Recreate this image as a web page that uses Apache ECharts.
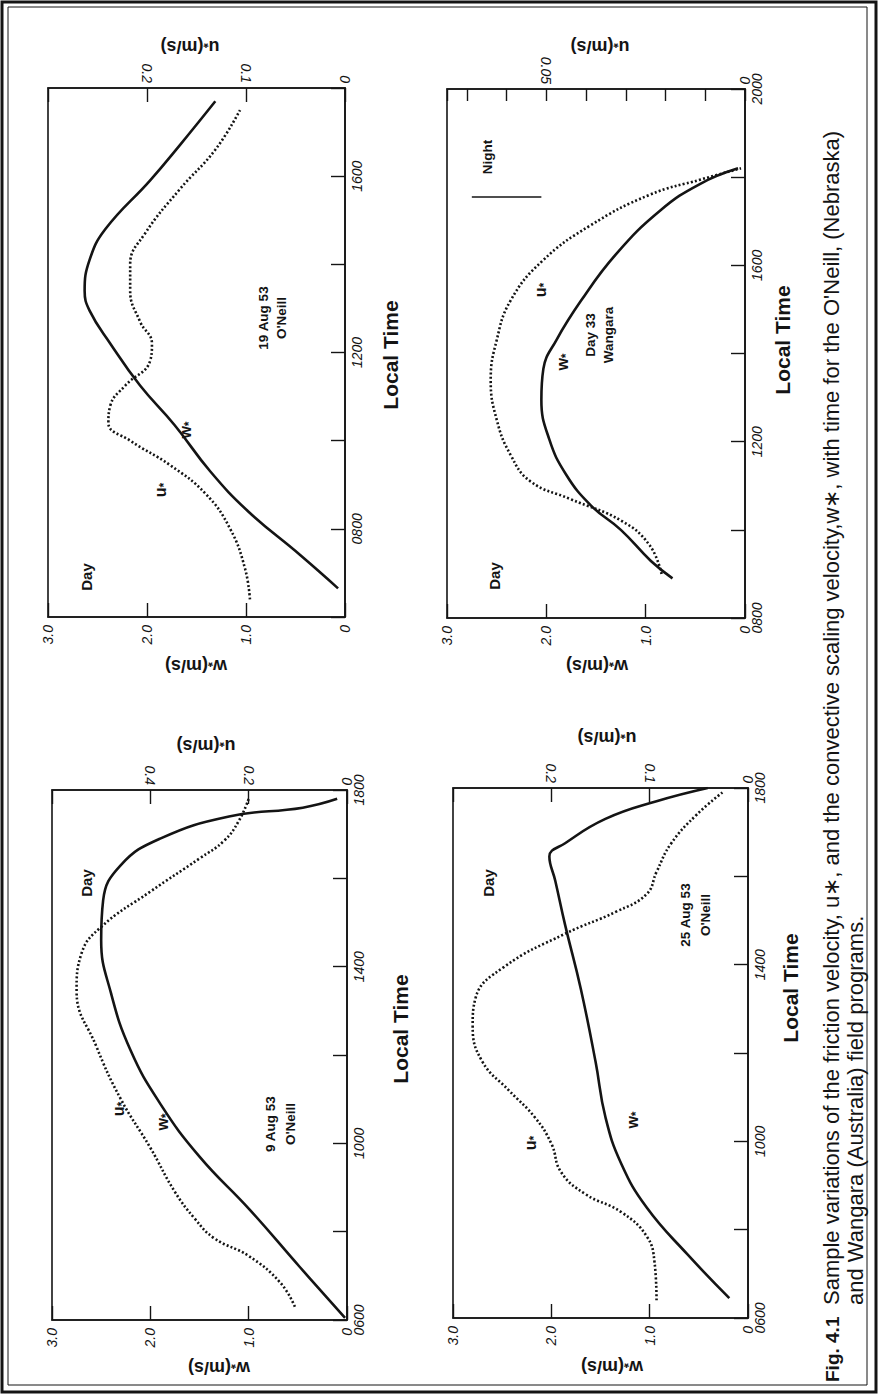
<!DOCTYPE html>
<html><head><meta charset="utf-8">
<script src="https://cdn.jsdelivr.net/npm/echarts/dist/echarts.min.js"></script>
<style>html,body{margin:0;padding:0;background:#fff}#c{width:880px;height:1397px}</style>
</head><body><div id="c"></div>
<script>
// ---------- data (time in hours, values in m/s) ----------
// 19 Aug 53, O'Neill
const w19Time = [6.65, 7.4, 8.4, 9.3, 10.35, 11.25, 12.2, 12.95, 13.4, 14.1, 14.8, 15.9, 16.7, 17.7];
const w19     = [0.07, 0.45, 0.98, 1.36, 1.72, 2.07, 2.37, 2.58, 2.63, 2.58, 2.42, 1.97, 1.67, 1.31];
const u19Time = [6.4, 7.1, 8.0, 8.8, 9.45, 10.0, 10.4, 10.8, 11.25, 11.8, 12.2, 12.7, 13.4, 14.0, 14.7, 15.7, 16.6, 17.5];
const u19     = [0.096, 0.101, 0.116, 0.141, 0.177, 0.217, 0.239, 0.237, 0.222, 0.197, 0.195, 0.207, 0.217, 0.217, 0.202, 0.167, 0.131, 0.106];
// Day 33, Wangara
const wWanTime = [8.9, 9.3, 10.0, 10.55, 11.25, 12.05, 12.95, 13.65, 14.3, 15.2, 16.25, 17.25, 17.85, 18.2];
const wWan     = [0.73, 0.95, 1.25, 1.55, 1.8, 1.97, 2.05, 2.03, 1.9, 1.65, 1.3, 0.85, 0.45, 0.07];
const uWanTime = [9.0, 9.65, 10.2, 10.7, 11.1, 11.7, 12.5, 13.4, 14.3, 15.2, 16.1, 16.9, 17.6, 17.95, 18.2];
const uWan     = [0.021, 0.024, 0.031, 0.044, 0.054, 0.059, 0.0625, 0.064, 0.0625, 0.059, 0.051, 0.039, 0.024, 0.011, 0.001];
const nightTime = [17.55, 17.55];
const nightW    = [2.75, 2.05];
// 9 Aug 53, O'Neill
const w9Time = [6.05, 7.2, 8.5, 9.7, 10.9, 12.1, 13.4, 14.6, 15.5, 16.3, 16.9, 17.4, 17.6, 17.8];
const w9     = [0.02, 0.48, 0.99, 1.5, 1.9, 2.2, 2.4, 2.5, 2.48, 2.3, 1.9, 1.2, 0.45, 0.1];
const u9Time = [6.3, 6.85, 7.45, 7.85, 8.3, 8.9, 9.9, 11.0, 12.2, 13.45, 14.3, 14.9, 15.7, 16.45, 16.85, 17.3, 17.8];
const u9     = [0.106, 0.136, 0.2, 0.27, 0.31, 0.35, 0.4, 0.46, 0.51, 0.55, 0.54, 0.5, 0.4, 0.3, 0.25, 0.22, 0.2];
// 25 Aug 53, O'Neill
const w25Time = [6.45, 7.45, 8.5, 9.5, 10.55, 11.8, 13.45, 14.9, 15.9, 16.45, 16.75, 17.3, 17.7, 18.0];
const w25     = [0.19, 0.62, 1.03, 1.29, 1.45, 1.55, 1.7, 1.86, 1.96, 2.02, 1.86, 1.45, 0.93, 0.41];
const u25Time = [6.4, 7.25, 7.85, 8.4, 8.8, 9.3, 9.95, 10.55, 11.15, 11.8, 12.6, 13.25, 13.95, 14.7, 15.2, 15.6, 16.1, 16.75, 17.4, 17.9];
const u25     = [0.093, 0.095, 0.103, 0.129, 0.165, 0.19, 0.2, 0.217, 0.243, 0.27, 0.28, 0.277, 0.248, 0.186, 0.134, 0.103, 0.093, 0.078, 0.052, 0.026];

// ---------- tick labels ----------
const wTickLabels = ['0', '1.0', '2.0', '3.0'];
const time19Labels  = ['0800', '1200', '1600'];
const timeWanLabels = ['0800', '1200', '1600', '2000'];
const time9Labels   = ['0600', '1000', '1400', '1800'];
const time25Labels  = ['0600', '1000', '1400', '1800'];
const u19Labels  = ['0', '0.1', '0.2'];
const uWanLabels = ['0', '0.05'];
const u9Labels   = ['0', '0.2', '0.4'];
const u25Labels  = ['0', '0.1', '0.2'];

// ---------- layout ----------
const FONT = '"Liberation Sans", Arial, Helvetica, sans-serif';
const INK = '#141414';
const panels = [
  {grid:{left:48, top:88, width:297, height:529}, tMin:6, tMax:18, tLab:time19Labels, uMax:0.3, uInt:0.1, uLab:u19Labels, wT:w19Time, w:w19, uT:u19Time, u:u19},
  {grid:{left:447, top:89, width:298, height:529}, tMin:8, tMax:20, tLab:timeWanLabels, uMax:0.075, uInt:0.01, uLab:uWanLabels, wT:wWanTime, w:wWan, uT:uWanTime, u:uWan},
  {grid:{left:52, top:790, width:295, height:530}, tMin:6, tMax:18, tLab:time9Labels, uMax:0.6, uInt:0.2, uLab:u9Labels, wT:w9Time, w:w9, uT:u9Time, u:u9},
  {grid:{left:453, top:788, width:295, height:530}, tMin:6, tMax:18, tLab:time25Labels, uMax:0.3, uInt:0.1, uLab:u25Labels, wT:w25Time, w:w25, uT:u25Time, u:u25}
];

const pair = (vals, times) => vals.map((v, i) => [v, times[i]]);
const lblStyle = {fontStyle:'italic', fontSize:14, color:INK, fontFamily:FONT};
const axLine = {show:true, lineStyle:{color:INK, width:1.6}};
const tick = {show:true, inside:true, length:14, lineStyle:{color:INK, width:1.4}};

const grids = [], xAxes = [], yAxes = [], series = [];
panels.forEach((p, g) => {
  grids.push(Object.assign({show:true, borderColor:INK, borderWidth:1.6, backgroundColor:'transparent'}, p.grid));
  xAxes.push({gridIndex:g, type:'value', position:'bottom', inverse:true, min:0, max:3, interval:1,
    axisLine:axLine, axisTick:tick, splitLine:{show:false},
    axisLabel:Object.assign({rotate:90, margin:8, formatter:v => { const s = v === 0 ? '0' : v.toFixed(1); return wTickLabels.includes(s) ? s : ''; }}, lblStyle)});
  xAxes.push({gridIndex:g, type:'value', position:'top', inverse:true, min:0, max:p.uMax, interval:p.uInt,
    axisLine:axLine, axisTick:Object.assign({}, tick, {length: g===1 ? 12 : 14}), splitLine:{show:false},
    axisLabel:Object.assign({rotate:90, margin:5, formatter:v => { const s = v === 0 ? '0' : String(+v.toFixed(3)); return p.uLab.includes(s) ? s : ''; }}, lblStyle)});
  yAxes.push({gridIndex:g, type:'value', position:'right', min:p.tMin, max:p.tMax, interval:2,
    axisLine:axLine, axisTick:tick, splitLine:{show:false},
    axisLabel:Object.assign({rotate:90, margin:5, formatter:v => { const s = String(Math.round(v*100)).padStart(4,'0'); return p.tLab.includes(s) ? s : ''; }}, lblStyle)});
  series.push({type:'line', xAxisIndex:2*g, yAxisIndex:g, data:pair(p.w, p.wT), smooth:0.45,
    symbol:'none', lineStyle:{color:INK, width:2.6}, z:5});
  series.push({type:'line', xAxisIndex:2*g+1, yAxisIndex:g, data:pair(p.u, p.uT), smooth:0.45,
    symbol:'none', lineStyle:{color:INK, width:2.6, type:[2,2.2], cap:'butt'}, z:5});
});
series.push({type:'line', xAxisIndex:2, yAxisIndex:1, data:pair(nightW, nightTime), symbol:'none',
  lineStyle:{color:INK, width:1.4}});

const R = Math.PI/2;
function txt(x, y, text, rot, size, weight, align, style) {
  return {type:'text', x:x, y:y, rotation:rot, z:20,
    style:Object.assign({text:text, fill:INK, fontSize:size, fontWeight:weight||'normal', fontFamily:FONT,
      align:align||'center', verticalAlign:'middle'}, style||{})};
}
function star(x, y, letter) {
  return {type:'text', x:x, y:y, rotation:R, z:20,
    style:{text:'{a|' + letter + '}{b|*}', fill:INK, fontFamily:FONT, align:'center', verticalAlign:'middle',
      rich:{a:{fontSize:16, fontWeight:'bold', fontFamily:FONT, fill:INK}, b:{fontSize:12, fontWeight:'bold', fontFamily:FONT, fill:INK, padding:[7,0,0,0]}}}};
}
function name(x, y, letter) {
  return {type:'text', x:x, y:y, rotation:Math.PI, z:20,
    style:{text:'{a|' + letter + '}{b|*}{a|(m/s)}', fill:INK, fontFamily:FONT, align:'center', verticalAlign:'middle',
      rich:{a:{fontSize:18, fontWeight:'bold', fontFamily:FONT, fill:INK}, b:{fontSize:13, fontWeight:'bold', fontFamily:FONT, fill:INK, padding:[7,0,0,0]}}}};
}

const graphics = [
  {type:'rect', shape:{x:2, y:2, width:874, height:1390}, style:{fill:null, stroke:INK, lineWidth:3}, z:1},
  {type:'rect', shape:{x:8, y:7, width:859, height:1378}, style:{fill:null, stroke:INK, lineWidth:1}, z:1},
  // 19 Aug
  name(190, 47, 'u'), name(196, 666, 'w'),
  txt(390, 355, 'Local Time', R, 21, 'bold'),
  txt(86, 577, 'Day', R, 15, 'bold'),
  txt(263, 318, '19 Aug 53', R, 13.5, 'bold'),
  txt(281, 318, "O'Neill", R, 13.5, 'bold'),
  star(160, 490, 'u'), star(185, 430, 'w'),
  // Wangara
  name(600, 47, 'u'), name(597, 666, 'w'),
  txt(782, 340, 'Local Time', R, 21, 'bold'),
  txt(494, 576, 'Day', R, 15, 'bold'),
  txt(590, 335, 'Day 33', R, 13.5, 'bold'),
  txt(608, 335, 'Wangara', R, 13.5, 'bold'),
  star(540, 290, 'u'), star(562, 362, 'w'),
  txt(487, 157, 'Night', R, 13.5, 'bold'),
  // 9 Aug
  name(206, 746, 'u'), name(219, 1368, 'w'),
  txt(400, 1029, 'Local Time', R, 21, 'bold'),
  txt(86, 883, 'Day', R, 15, 'bold'),
  txt(270, 1124, '9 Aug 53', R, 13.5, 'bold'),
  txt(290, 1124, "O'Neill", R, 13.5, 'bold'),
  star(118, 1109, 'u'), star(162, 1122, 'w'),
  // 25 Aug
  name(607, 738, 'u'), name(612, 1367, 'w'),
  txt(790, 988, 'Local Time', R, 21, 'bold'),
  txt(488, 883, 'Day', R, 15, 'bold'),
  txt(685, 915, '25 Aug 53', R, 13.5, 'bold'),
  txt(705, 915, "O'Neill", R, 13.5, 'bold'),
  star(530, 1143, 'u'), star(632, 1120, 'w'),
  // caption
  txt(832, 1382, 'Fig. 4.1', R, 19, 'bold', 'left'),
  txt(831, 1305, "Sample variations of the friction velocity, u\u2217, and the convective scaling velocity,w\u2217, with time for the O'Neill, (Nebraska)", R, 22, 'normal', 'left'),
  txt(855, 1305, 'and Wangara (Australia) field programs.', R, 22, 'normal', 'left')
];

const chart = echarts.init(document.getElementById('c'), null, {renderer:'svg'});
chart.setOption({
  animation:false,
  backgroundColor:'#fff',
  textStyle:{fontFamily:FONT},
  grid:grids, xAxis:xAxes, yAxis:yAxes, series:series, graphic:graphics
});
</script></body></html>
